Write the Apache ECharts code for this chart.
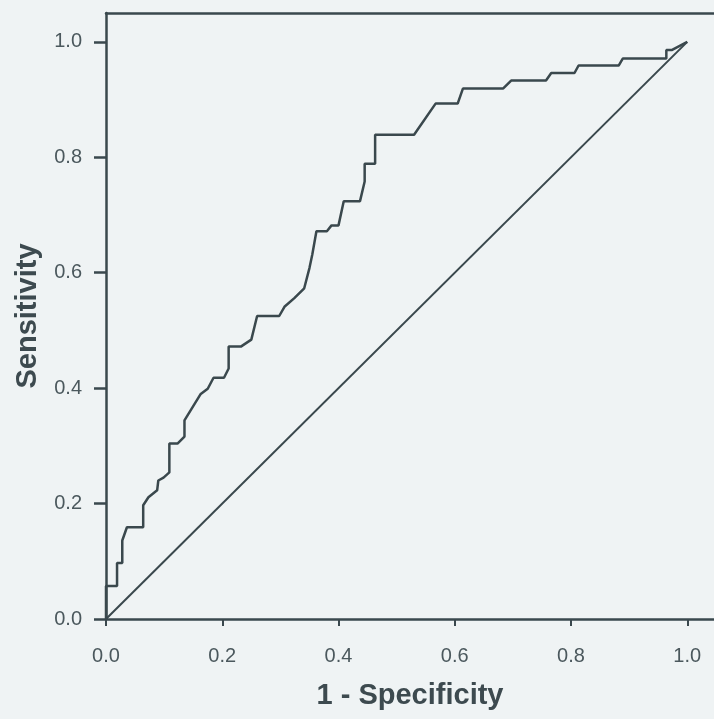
<!DOCTYPE html>
<html>
<head>
<meta charset="utf-8">
<script src="https://cdn.jsdelivr.net/npm/echarts@6/dist/echarts.min.js"></script>
<style>
  html, body { margin: 0; padding: 0; background: #eff3f4; }
  #chart { width: 714px; height: 719px; }
</style>
</head>
<body>
<div id="chart"></div>
<script>
// ROC curve points: [1 - specificity, sensitivity]
const rocX = [0, 0, 0.019, 0.019, 0.028, 0.028, 0.036, 0.064, 0.064, 0.073, 0.088, 0.090, 0.099, 0.109, 0.109,
  0.123, 0.135, 0.135, 0.163, 0.175, 0.185, 0.203, 0.211, 0.211, 0.232, 0.250, 0.260, 0.298, 0.307, 0.324,
  0.341, 0.350, 0.355, 0.362, 0.380, 0.388, 0.400, 0.409, 0.437, 0.445, 0.445, 0.463, 0.463, 0.530, 0.567,
  0.605, 0.614, 0.683, 0.697, 0.757, 0.766, 0.806, 0.813, 0.882, 0.889, 0.964, 0.964, 0.974, 1]
const rocY = [0, 0.057, 0.057, 0.097, 0.097, 0.136, 0.159, 0.159, 0.197, 0.211, 0.223, 0.240, 0.245, 0.254, 0.304,
  0.304, 0.316, 0.344, 0.390, 0.399, 0.418, 0.418, 0.434, 0.472, 0.472, 0.484, 0.525, 0.525, 0.541, 0.556,
  0.573, 0.608, 0.632, 0.672, 0.672, 0.682, 0.682, 0.724, 0.724, 0.758, 0.789, 0.789, 0.839, 0.839, 0.893,
  0.893, 0.919, 0.919, 0.933, 0.933, 0.946, 0.946, 0.959, 0.959, 0.971, 0.971, 0.986, 0.986, 1]
// reference (chance) line
const refX = [0, 1]
const refY = [0, 1]
const tickValues = [0, 0.2, 0.4, 0.6, 0.8, 1.0]

const lineColor = '#3a484d'
const labelColor = '#4b585d'

const myChart = echarts.init(document.getElementById('chart'))
let option = {
  backgroundColor: '#eff3f4',
  animation: false,
  grid: { left: 106, right: 0, top: 13, bottom: 100 },
  xAxis: [
    {
      type: 'value',
      min: 0,
      max: 1.046,
      name: '1 - Specificity',
      nameLocation: 'middle',
      nameGap: 62,
      nameTextStyle: { fontFamily: 'Liberation Sans', fontSize: 29, fontWeight: 'bold', color: '#3d4a4f' },
      axisLine: { show: true, lineStyle: { color: lineColor, width: 2.5 } },
      axisTick: { show: true, length: 7, customValues: tickValues, lineStyle: { color: lineColor, width: 2 } },
      axisLabel: {
        customValues: tickValues,
        margin: 27,
        fontFamily: 'Liberation Sans',
        fontSize: 20,
        color: labelColor,
        formatter: (v) => v.toFixed(1)
      },
      splitLine: { show: false }
    },
    {
      // top frame line
      type: 'value',
      position: 'top',
      min: 0,
      max: 1.046,
      axisLine: { show: true, lineStyle: { color: lineColor, width: 2.5 } },
      axisTick: { show: false },
      axisLabel: { show: false },
      splitLine: { show: false }
    }
  ],
  yAxis: {
    type: 'value',
    min: 0,
    max: 1.05,
    name: 'Sensitivity',
    nameLocation: 'middle',
    nameGap: 64,
    nameTextStyle: { fontFamily: 'Liberation Sans', fontSize: 29, fontWeight: 'bold', color: '#3d4a4f' },
    axisLine: { show: true, lineStyle: { color: lineColor, width: 2.5 } },
    axisTick: { show: true, length: 12, customValues: tickValues, lineStyle: { color: lineColor, width: 2.5 } },
    axisLabel: {
      customValues: tickValues,
      margin: 24,
      fontFamily: 'Liberation Sans',
      fontSize: 20,
      color: labelColor,
      formatter: (v) => v.toFixed(1)
    },
    splitLine: { show: false }
  },
  series: [
    {
      name: 'ROC',
      type: 'line',
      xAxisIndex: 0,
      symbol: 'none',
      lineStyle: { color: lineColor, width: 2.5 },
      data: rocX.map((x, i) => [x, rocY[i]])
    },
    {
      name: 'Reference',
      type: 'line',
      xAxisIndex: 0,
      symbol: 'none',
      lineStyle: { color: lineColor, width: 2 },
      data: refX.map((x, i) => [x, refY[i]])
    }
  ]
}
option && myChart.setOption(option)
</script>
</body>
</html>
